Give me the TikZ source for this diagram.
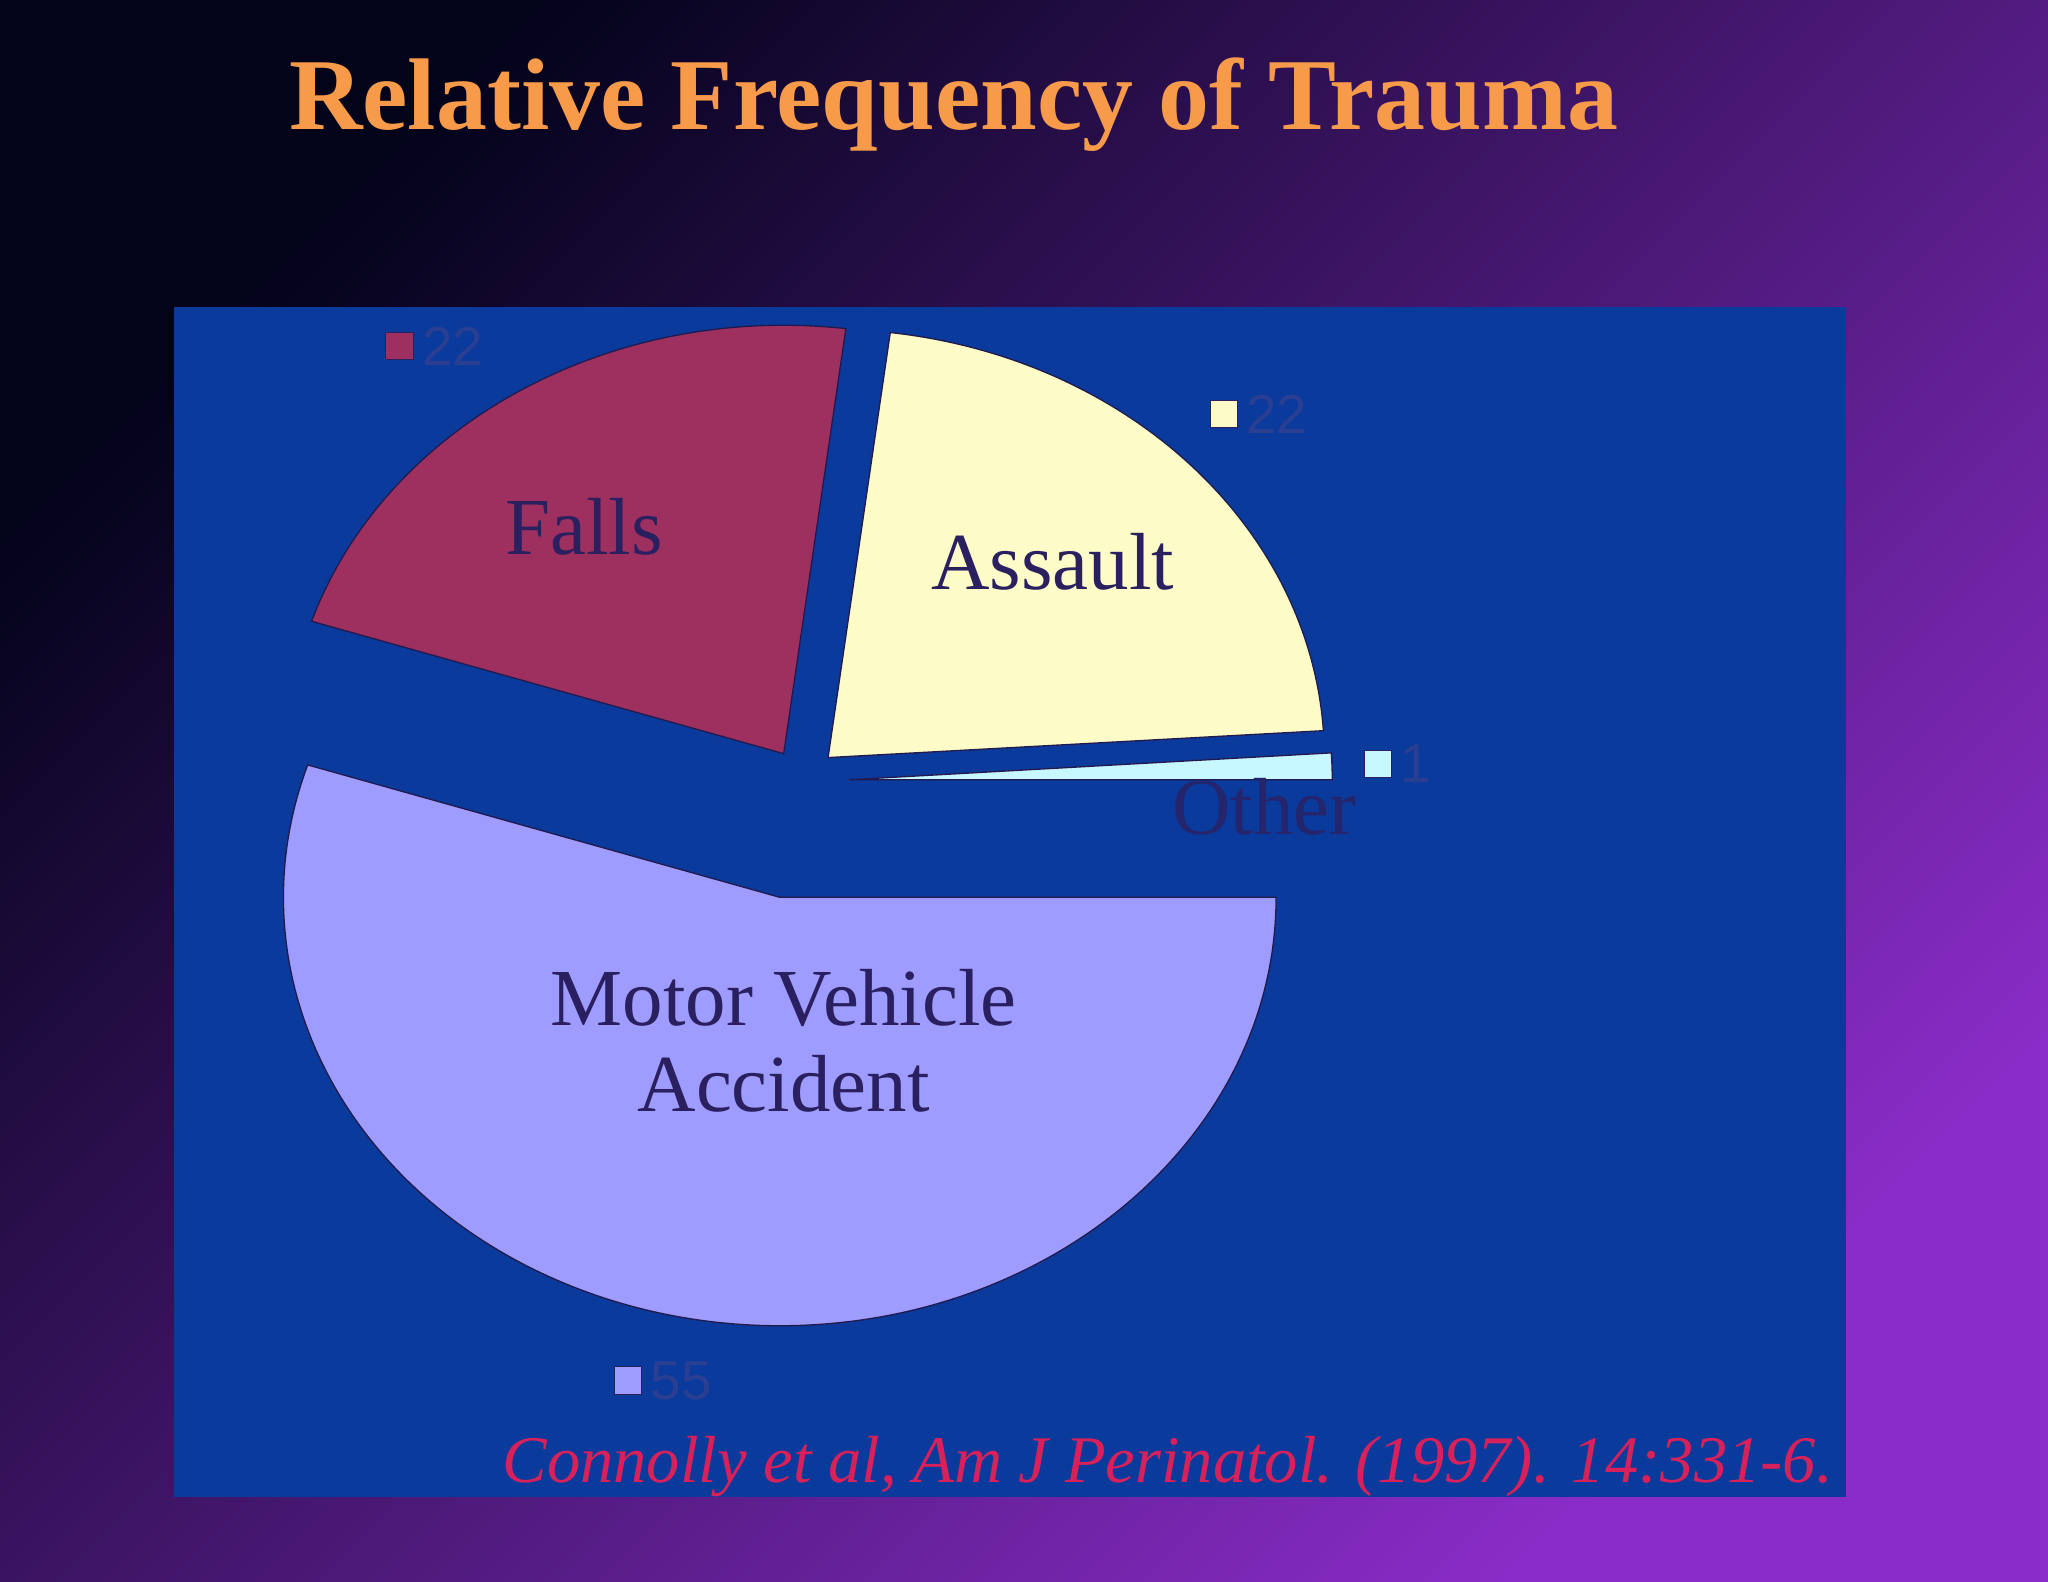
\documentclass[tikz,border=0pt]{standalone}
\usepackage{fontspec}
\setmainfont{Liberation Serif}
\setsansfont{Liberation Sans}
\begin{document}
\begin{tikzpicture}[x=1pt,y=-1pt]
\definecolor{bgA}{HTML}{03031A}\definecolor{bgB}{HTML}{1820B8}
\definecolor{bgD}{HTML}{8A2CC8}
\definecolor{panel}{HTML}{0A3A9C}\definecolor{ttl}{HTML}{F79A4A}
\definecolor{falls}{HTML}{9E3060}\definecolor{assault}{HTML}{FDFBC8}
\definecolor{other}{HTML}{C8F8FF}\definecolor{mva}{HTML}{9F9CFF}
\definecolor{lbl}{HTML}{2A2060}\definecolor{leg}{HTML}{2A3E92}
\definecolor{cite}{HTML}{D8205A}
\tikzset{slice/.style={draw=lbl!80!black,line width=1pt},
 lab/.style={font=\fontsize{62}{66}\selectfont,text=lbl,align=center},
 legbox/.style={minimum size=21pt,inner sep=0pt,draw=lbl,line width=0.8pt},
 legtxt/.style={font=\sffamily\fontsize{42}{46}\selectfont,text=leg,anchor=west,inner sep=6pt}}
\shade[left color=bgA,middle color=bgB,right color=bgD,shading angle=45] (0,0) rectangle (1568,1211);
\useasboundingbox (0,0) rectangle (1568,1211);
\node[font=\bfseries\fontsize{78}{86}\selectfont,text=ttl] (title) at (730,80) {Relative Frequency of Trauma};
\fill[panel] (133,235) rectangle (1413,1146);
\begin{scope}[y=1pt]
\draw[slice,fill=mva] (597,-687) -- ++(0:380 and 328) arc[start angle=0,end angle=-198,x radius=380,y radius=328] -- cycle;
\draw[slice,fill=falls] (600,-577) -- ++(162:380 and 328) arc[start angle=162,end angle=82.8,x radius=380,y radius=328] -- cycle;
\draw[slice,fill=assault] (634,-580) -- ++(82.8:380 and 328) arc[start angle=82.8,end angle=3.6,x radius=380,y radius=328] -- cycle;
\draw[slice,fill=other] (650,-597) -- ++(3.6:370 and 328) arc[start angle=3.6,end angle=0,x radius=370,y radius=328] -- cycle;
\end{scope}
\node[lab] (lfalls) at (447,403) {Falls};
\node[lab] (lassault) at (806,430) {Assault};
\node[lab] (lmva) at (600,797) {Motor Vehicle\\Accident};
\node[lab,text=lbl!80!panel] (lother) at (968,618) {Other};
\node[legbox,fill=falls] (b1) at (306,265) {};
\node[legtxt] (t1) at (b1.east) {22};
\node[legbox,fill=assault] (b2) at (937,317) {};
\node[legtxt] (t2) at (b2.east) {22};
\node[legbox,fill=other] (b3) at (1055,585) {};
\node[legtxt] (t3) at (b3.east) {1};
\node[legbox,fill=mva] (b4) at (481,1057) {};
\node[legtxt] (t4) at (b4.east) {55};
\node[font=\itshape\fontsize{51}{56}\selectfont,text=cite] (cit) at (894,1123) {Connolly et al, Am J Perinatol. (1997). 14:331-6.};
\end{tikzpicture}
\end{document}
